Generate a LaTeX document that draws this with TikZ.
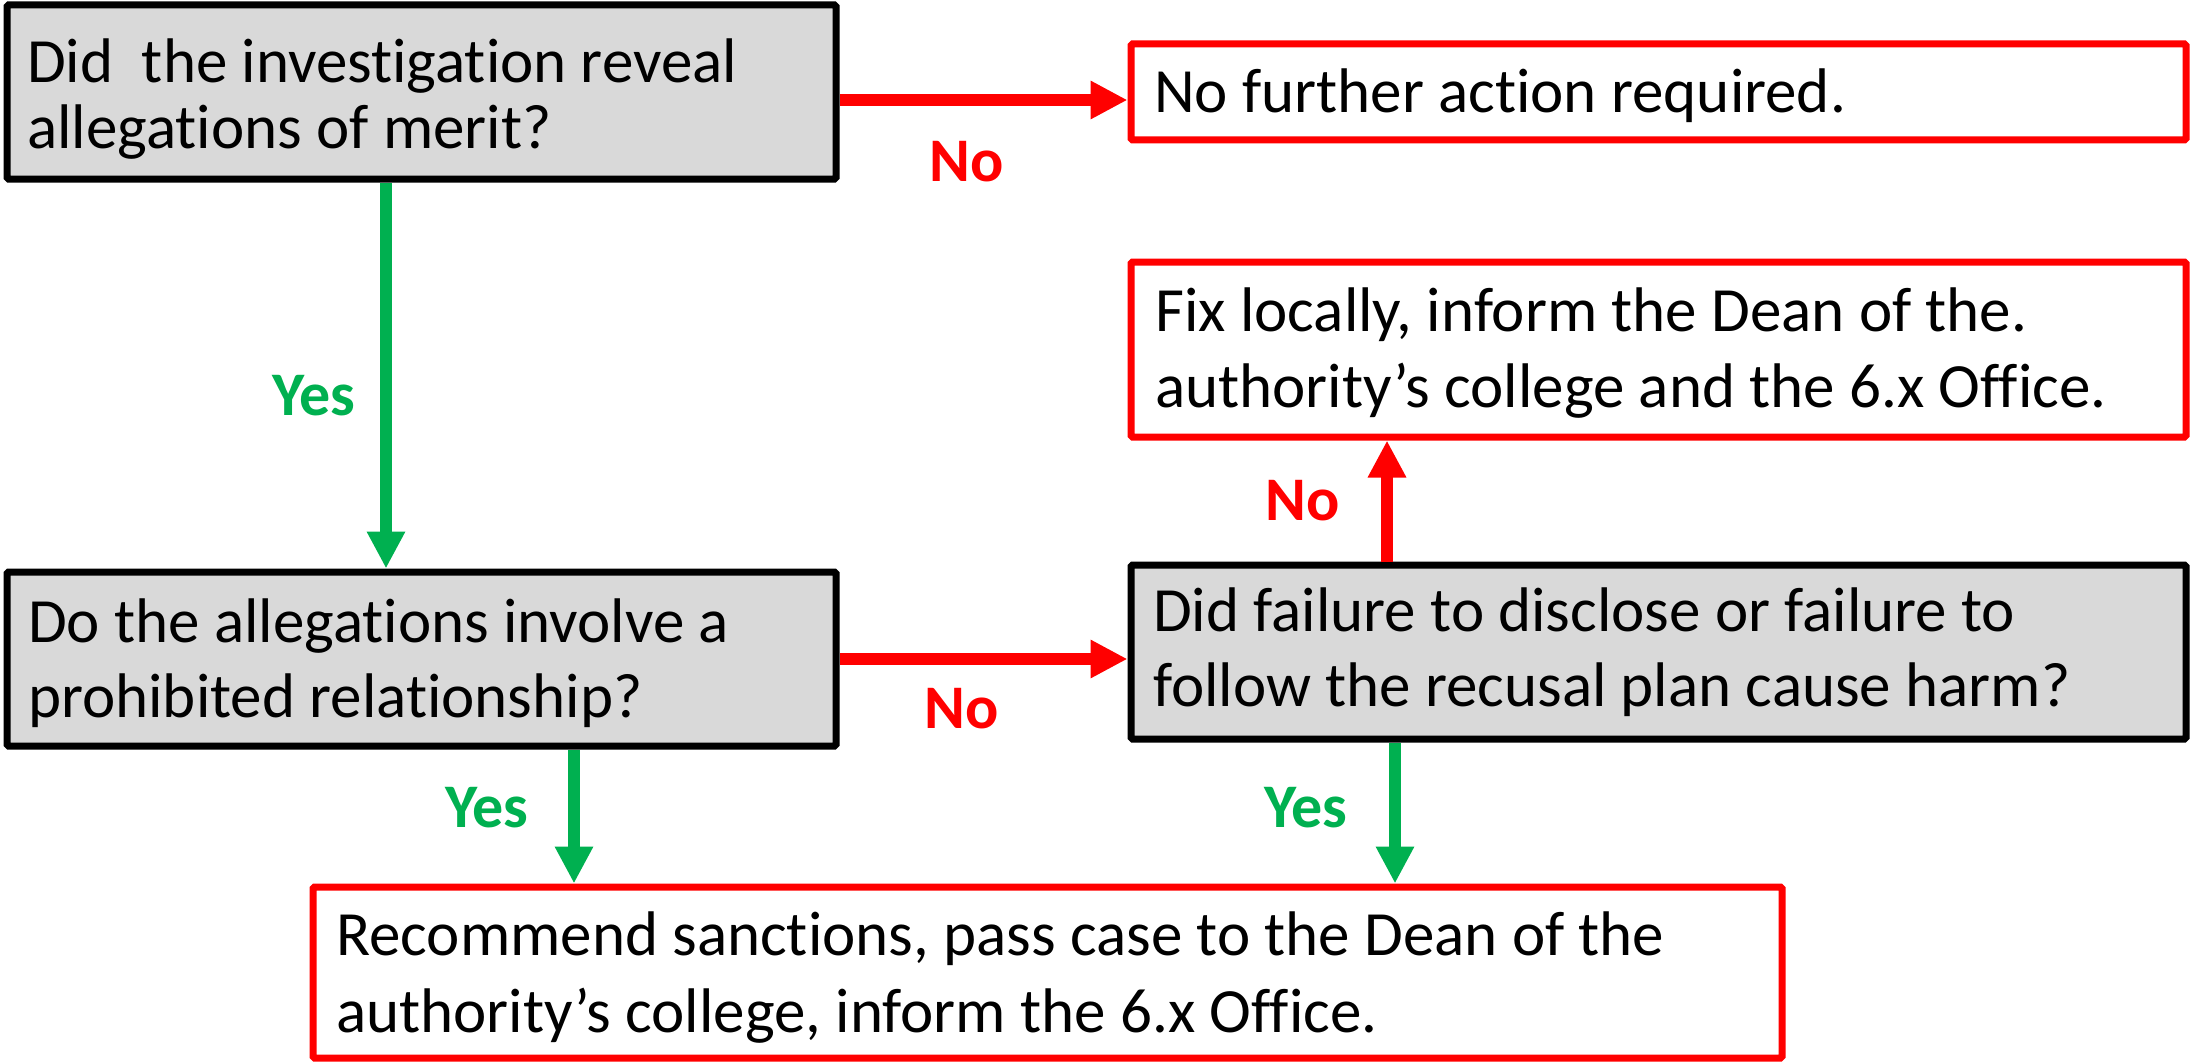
\documentclass[tikz,border=0pt]{standalone}
\usepackage{fontspec}
\setmainfont{Carlito}[RawFeature=-liga]
\usetikzlibrary{arrows.meta}

\definecolor{flowred}{RGB}{255,0,0}
\definecolor{flowgreen}{RGB}{0,176,80}
\definecolor{qgray}{RGB}{217,217,217}

\tikzset{
  question/.style={draw=black, fill=qgray, line width=7pt, rectangle, inner sep=0pt, rounded corners=1.5pt},
  outcome/.style={draw=flowred, fill=white, line width=7pt, rectangle, inner sep=0pt, rounded corners=1.5pt},
  boxtext/.style={anchor=base west, inner sep=0pt, font=\fontsize{63}{75}\selectfont},
  yesarrow/.style={draw=flowgreen, line width=12pt, -{Triangle[length=37pt,width=36pt]}},
  noarrow/.style={draw=flowred, line width=12pt, -{Triangle[length=37pt,width=36pt]}},
  yeslabel/.style={text=flowgreen, inner sep=0pt, font=\fontsize{62}{75}\selectfont\bfseries},
  nolabel/.style={text=flowred, inner sep=0pt, font=\fontsize{62}{75}\selectfont\bfseries},
}

\begin{document}
\begin{tikzpicture}[x=1pt, y=-1pt]
\useasboundingbox (0,0) rectangle (2190,1062);

% decision boxes
\node[question, minimum width=829pt, minimum height=174pt] (q1) at (421.5,92) {};
\node[question, minimum width=829pt, minimum height=174pt] (q2) at (421.5,659) {};
\node[question, minimum width=1055pt, minimum height=174pt] (q3) at (1658.5,652) {};

% outcome boxes
\node[outcome, minimum width=1055pt, minimum height=96pt] (nf) at (1658.5,92) {};
\node[outcome, minimum width=1055pt, minimum height=175pt] (fix) at (1658.5,349.5) {};
\node[outcome, minimum width=1469pt, minimum height=171pt] (rec) at (1047.5,972.5) {};

% box texts
\node[boxtext] (q1a) at (27,83) {Did\ \ the investigation reveal};
\node[boxtext] (q1b) at (27,149) {allegations of merit?};
\node[boxtext] (q2a) at (28,642) {Do the allegations involve a};
\node[boxtext] (q2b) at (28,717) {prohibited relationship?};
\node[boxtext] (q3a) at (1153,631) {Did failure to disclose or failure to};
\node[boxtext] (q3b) at (1153,706) {follow the recusal plan cause harm?};
\node[boxtext] (nfa) at (1154,113) {No further action required.};
\node[boxtext] (fixa) at (1155,331) {Fix locally, inform the Dean of the.};
\node[boxtext] (fixb) at (1155,407) {authority’s college and the 6.x Office.};
\node[boxtext] (reca) at (336,955) {Recommend sanctions, pass case to the Dean of the};
\node[boxtext] (recb) at (336,1032) {authority’s college, inform the 6.x Office.};

% connector guide lines
\coordinate (r1) at (0,100);
\coordinate (g1) at (386,0);
\coordinate (g2) at (574,0);
\coordinate (g3) at (1395,0);
\coordinate (u1) at (1387,0);

% connectors
\draw[noarrow] (q1.east |- r1) -- (nf.west |- r1);
\draw[yesarrow] (q1.south -| g1) -- (q2.north -| g1);
\draw[noarrow] (q2.east) -- (q2.east -| q3.west);
\draw[noarrow] (q3.north -| u1) -- (fix.south -| u1);
\draw[yesarrow] (q2.south -| g2) -- (rec.north -| g2);
\draw[yesarrow] (q3.south -| g3) -- (rec.north -| g3);

% branch labels
\node[nolabel] (no1) at (967,162) {No};
\node[yeslabel] (yes1) at (314,396) {Yes};
\node[nolabel] (no2) at (962,709) {No};
\node[nolabel] (no3) at (1303,501) {No};
\node[yeslabel] (yes2) at (487,808) {Yes};
\node[yeslabel] (yes3) at (1306,808) {Yes};
\end{tikzpicture}
\end{document}
